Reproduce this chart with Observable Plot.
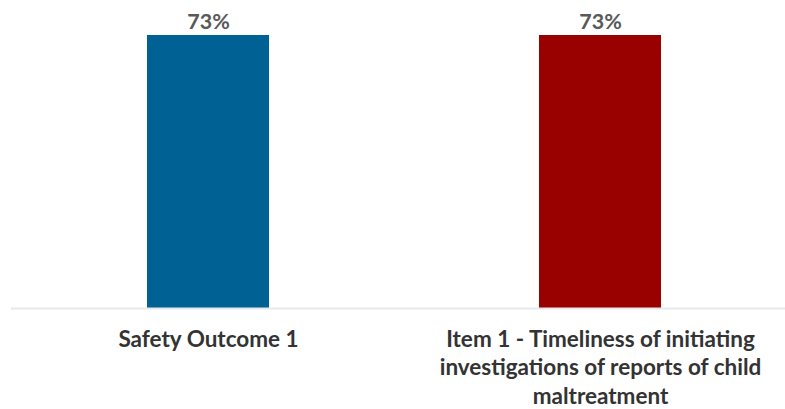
<!DOCTYPE html>
<html>
<head>
<meta charset="utf-8">
<script src="https://cdn.jsdelivr.net/npm/d3@7"></script>
<script src="https://cdn.jsdelivr.net/npm/@observablehq/plot@0.6"></script>
<style>
  html, body { margin: 0; padding: 0; background: #fff; }
  #chart svg { display: block; }
</style>
</head>
<body>
<div id="chart"></div>
<script>
const categories = [
  "Safety Outcome 1",
  "Item 1 - Timeliness of initiating investigations of reports of child maltreatment"
];
const tickLabels = [
  "Safety Outcome 1",
  "Item 1 - Timeliness of initiating\ninvestigations of reports of child\nmaltreatment"
];
const values = [73, 73];
const colors = ["#006195", "#990000"];

const data = categories.map((c, i) => ({category: c, value: values[i], label: tickLabels[i]}));

const chart = Plot.plot({
  width: 785,
  height: 409,
  marginLeft: 23,
  marginRight: 0,
  marginTop: 35,
  marginBottom: 101,
  style: {fontFamily: "Lato, sans-serif", background: "#fff"},
  x: {domain: categories, paddingInner: 0.689, paddingOuter: 0.315, label: null},
  y: {domain: [0, d3.max(values)], axis: null},
  color: {domain: categories, range: colors},
  marks: [
    Plot.barY(data, {x: "category", y: "value", fill: "category"}),
    Plot.ruleY([0], {stroke: "#e8e8e8", strokeWidth: 2, insetLeft: -12}),
    Plot.text(data, {x: "category", y: "value", text: d => d.value + "%", dy: -13,
      fontSize: 21.5, fontWeight: "bold", fill: "#595959"}),
    Plot.axisX({tickSize: 0, tickPadding: 18, fontSize: 22.5, fontWeight: "bold",
      tickFormat: (d) => tickLabels[categories.indexOf(d)], lineHeight: 1.27,
      fill: "#333", lineAnchor: "top", textOverflow: null})
  ]
});
document.getElementById("chart").append(chart);
</script>
</body>
</html>
